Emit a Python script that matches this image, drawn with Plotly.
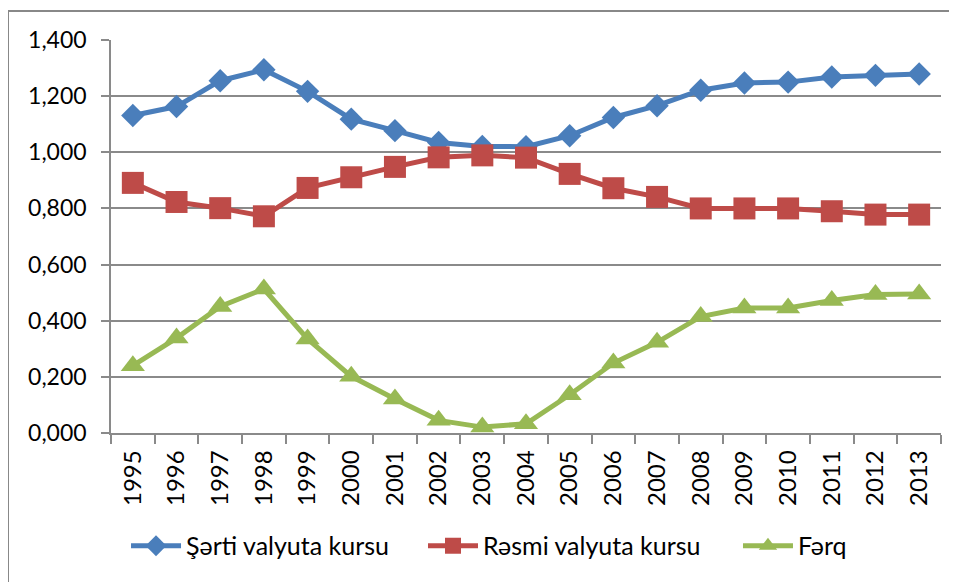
import plotly.graph_objects as go

years = [str(y) for y in range(1995, 2014)]
serti = [1.131, 1.163, 1.255, 1.294, 1.217, 1.118, 1.077, 1.035, 1.021, 1.020,
         1.059, 1.124, 1.166, 1.221, 1.247, 1.250, 1.268, 1.274, 1.279]
resmi = [0.891, 0.823, 0.801, 0.772, 0.873, 0.911, 0.948, 0.982, 0.989, 0.981,
         0.923, 0.872, 0.841, 0.800, 0.800, 0.800, 0.790, 0.778, 0.778]
ferq = [0.240, 0.338, 0.451, 0.513, 0.335, 0.202, 0.121, 0.045, 0.021, 0.033,
        0.136, 0.249, 0.323, 0.415, 0.445, 0.445, 0.472, 0.493, 0.495]
y_ticks = [0.0, 0.2, 0.4, 0.6, 0.8, 1.0, 1.2, 1.4]

names = ["Şərti valyuta kursu", "Rəsmi valyuta kursu", "Fərq"]
colors = ["#4A7EBB", "#BE4B48", "#98B954"]
symbols = ["diamond", "square", "triangle-up"]
sizes = [18, 22, 21]
legend_ids = ["legend", "legend2", "legend3"]
legend_x = [0.0181, 0.3759, 0.7554]

FONT = "Lato, 'Liberation Sans', sans-serif"
GRID = "#8A8A8A"

fig = go.Figure()
for name, vals, c, s, sz, lg in zip(names, [serti, resmi, ferq], colors, symbols, sizes, legend_ids):
    fig.add_trace(go.Scatter(
        x=years, y=vals, name=name, mode="lines+markers",
        line=dict(color=c, width=5),
        marker=dict(symbol=s, size=sz, color=c, line=dict(width=0)),
        legend=lg,
    ))

legend_common = dict(orientation="h", xanchor="left", y=-0.2875, yanchor="middle",
                     font=dict(family=FONT, size=25, color="#000000"),
                     itemwidth=50, bgcolor="rgba(0,0,0,0)")

fig.update_layout(
    width=949, height=574,
    margin=dict(l=103, r=16, t=32, b=149),
    paper_bgcolor="white", plot_bgcolor="white",
    separators=",.",
    font=dict(family=FONT, size=23, color="#000000"),
    showlegend=True,
    legend=dict(x=legend_x[0], **legend_common),
    legend2=dict(x=legend_x[1], **legend_common),
    legend3=dict(x=legend_x[2], **legend_common),
    xaxis=dict(
        type="category", range=[-0.5, 18.5], tickangle=-90,
        tickson="boundaries", ticks="outside", ticklen=9, tickcolor=GRID, tickwidth=1.5,
        showline=True, linecolor=GRID, linewidth=1.5, showgrid=False,
        tickfont=dict(family=FONT, size=24), ticklabelstandoff=6,
    ),
    yaxis=dict(
        range=[0, 1.4], tickvals=y_ticks, tickformat=".3f",
        ticks="outside", ticklen=8, tickcolor=GRID, tickwidth=1.5,
        showline=True, linecolor=GRID, linewidth=1.5,
        showgrid=True, gridcolor=GRID, gridwidth=1.5, zeroline=False,
        tickfont=dict(family=FONT, size=23), ticklabelstandoff=10,
    ),
    shapes=[dict(type="rect", xref="paper", yref="paper",
                 x0=-0.1241, x1=1.2, y0=-0.6, y1=1.0738,
                 line=dict(color="#888888", width=2), fillcolor="rgba(0,0,0,0)", layer="below")],
)

fig.write_html("out.html")
